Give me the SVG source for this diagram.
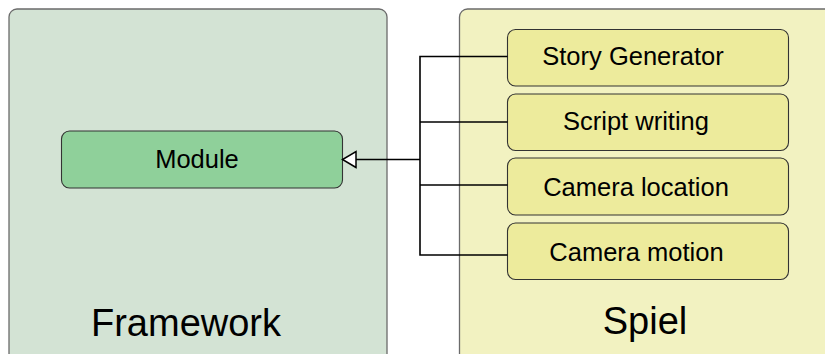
<svg xmlns="http://www.w3.org/2000/svg" width="825" height="354" viewBox="0 0 825 354">
<style>
text{font-family:"Liberation Sans",Arial,sans-serif;fill:#000;text-anchor:middle}
.cont{stroke:#6b6b6b;stroke-width:1.3}
.box{fill:#edeb9c;stroke:#333;stroke-width:1.1}
.lbl{font-size:25.5px}
.big{font-size:38px}
.conn{fill:none;stroke:#000;stroke-width:1.6}
</style>
<defs>
<marker id="tri" markerWidth="18" markerHeight="20" refX="15" refY="9" orient="auto" markerUnits="userSpaceOnUse">
<path d="M1.5,1 L15,9 L1.5,17 Z" fill="#fff" stroke="#000" stroke-width="1.5"/>
</marker>
</defs>
<rect width="825" height="354" fill="#fff"/>
<g id="framework">
<rect class="cont" x="9" y="9" width="378" height="360" rx="8" fill="#d3e3d4"/>
<text class="big" x="186" y="336">Framework</text>
</g>
<g id="spiel">
<rect class="cont" x="459.5" y="9" width="380" height="360" rx="8" fill="#f2f2c1"/>
<text class="big" x="645" y="334">Spiel</text>
</g>
<g id="module">
<rect x="61.5" y="131" width="281" height="57" rx="8" fill="#8fd09a" stroke="#333" stroke-width="1.1"/>
<text class="lbl" x="197" y="168">Module</text>
</g>
<g id="story-generator">
<rect class="box" x="507.5" y="29.5" width="281" height="56.5" rx="8"/>
<text class="lbl" x="633" y="65">Story Generator</text>
</g>
<g id="script-writing">
<rect class="box" x="507.5" y="94" width="281" height="56.5" rx="8"/>
<text class="lbl" x="636" y="130">Script writing</text>
</g>
<g id="camera-location">
<rect class="box" x="507.5" y="158" width="281" height="57" rx="8"/>
<text class="lbl" x="636" y="196">Camera location</text>
</g>
<g id="camera-motion">
<rect class="box" x="507.5" y="223" width="281" height="56.5" rx="8"/>
<text class="lbl" x="636.5" y="261">Camera motion</text>
</g>
<g id="connectors">
<path class="conn" d="M507.5,56.5 H420 V255 H507.5"/>
<path class="conn" d="M507.5,122 H420"/>
<path class="conn" d="M507.5,185 H420"/>
<path class="conn" d="M420,159.5 H342.5" marker-end="url(#tri)"/>
</g>
</svg>
